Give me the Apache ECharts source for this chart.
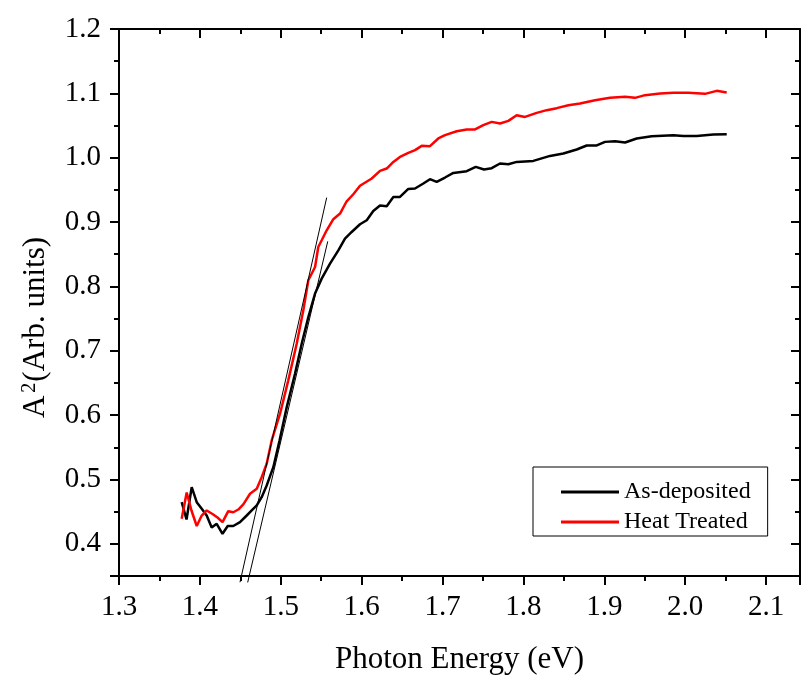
<!DOCTYPE html>
<html>
<head>
<meta charset="utf-8">
<script src="https://cdn.jsdelivr.net/npm/echarts@6/dist/echarts.min.js"></script>
<style>
  html, body { margin: 0; padding: 0; background: #fff; }
  #chart { width: 802px; height: 675px; }
</style>
</head>
<body>
<div id="chart"></div>
<script>
var myChart = echarts.init(document.getElementById('chart'));

// As-deposited
var energyAsDep = [1.3775, 1.3835, 1.3899, 1.3961, 1.4023, 1.4084, 1.4146, 1.4208, 1.4280, 1.4344,
    1.4413, 1.4496, 1.4579, 1.4641, 1.4703, 1.4764, 1.4826, 1.4908, 1.4985, 1.5074,
    1.5176, 1.5259, 1.5341, 1.5424, 1.5506, 1.5609, 1.5712, 1.5794, 1.5877, 1.5980,
    1.6063, 1.6144, 1.6227, 1.6310, 1.6392, 1.6474, 1.6577, 1.6660, 1.6763, 1.6845,
    1.6928, 1.7031, 1.7134, 1.7299, 1.7411, 1.7513, 1.7608, 1.7711, 1.7814, 1.7917,
    1.8123, 1.8329, 1.8494, 1.8659, 1.8783, 1.8907, 1.9009, 1.9133, 1.9257, 1.9401,
    1.9587, 1.9854, 1.9977, 2.0143, 2.0348, 2.0514];
var a2AsDep = [0.4647, 0.4378, 0.4880, 0.4647, 0.4544, 0.4440, 0.4253, 0.4311, 0.4156, 0.4277,
    0.4277, 0.4336, 0.4440, 0.4518, 0.4596, 0.4725, 0.4907, 0.5191, 0.5607, 0.6124,
    0.6644, 0.7110, 0.7524, 0.7888, 0.8121, 0.8355, 0.8561, 0.8743, 0.8846, 0.8966,
    0.9028, 0.9173, 0.9257, 0.9246, 0.9390, 0.9390, 0.9515, 0.9521, 0.9599, 0.9666,
    0.9624, 0.9692, 0.9764, 0.9790, 0.9857, 0.9816, 0.9837, 0.9910, 0.9899, 0.9935,
    0.9950, 1.0028, 1.0065, 1.0128, 1.0190, 1.0190, 1.0246, 1.0257, 1.0236, 1.0299,
    1.0334, 1.0350, 1.0339, 1.0339, 1.0361, 1.0365];

// Heat Treated
var energyHeat = [1.3775, 1.3837, 1.3896, 1.3961, 1.4023, 1.4084, 1.4156, 1.4218, 1.4280, 1.4351,
    1.4413, 1.4475, 1.4537, 1.4620, 1.4703, 1.4764, 1.4826, 1.4888, 1.4991, 1.5093,
    1.5197, 1.5279, 1.5341, 1.5424, 1.5464, 1.5506, 1.5568, 1.5650, 1.5733, 1.5815,
    1.5897, 1.5980, 1.6125, 1.6227, 1.6310, 1.6392, 1.6474, 1.6577, 1.6660, 1.6743,
    1.6845, 1.6948, 1.7031, 1.7176, 1.7299, 1.7402, 1.7504, 1.7608, 1.7711, 1.7814,
    1.7917, 1.8020, 1.8165, 1.8288, 1.8412, 1.8556, 1.8700, 1.8886, 1.9071, 1.9257,
    1.9380, 1.9504, 1.9690, 1.9854, 2.0039, 2.0246, 2.0390, 2.0514];
var a2Heat = [0.4389, 0.4798, 0.4518, 0.4277, 0.4440, 0.4518, 0.4463, 0.4409, 0.4336, 0.4507,
    0.4491, 0.4533, 0.4614, 0.4778, 0.4855, 0.5036, 0.5244, 0.5607, 0.6022, 0.6540,
    0.7110, 0.7628, 0.8095, 0.8302, 0.8613, 0.8717, 0.8872, 0.9044, 0.9132, 0.9323,
    0.9432, 0.9565, 0.9677, 0.9795, 0.9832, 0.9935, 1.0012, 1.0075, 1.0117, 1.0184,
    1.0179, 1.0299, 1.0350, 1.0412, 1.0439, 1.0439, 1.0505, 1.0557, 1.0532, 1.0572,
    1.0661, 1.0634, 1.0697, 1.0739, 1.0770, 1.0816, 1.0843, 1.0894, 1.0930, 1.0946,
    1.0930, 1.0972, 1.0998, 1.1008, 1.1008, 1.0992, 1.1039, 1.1014];

// tangent (linear fit) lines: [x, y] end points
var fitHeat = [[1.4496, 0.3403], [1.5568, 0.9380]];
var fitAsDep = [[1.4591, 0.3400], [1.5581, 0.8700]];

var seriesNames = ['As-deposited', 'Heat Treated'];

function zip(xs, ys) {
    return xs.map(function (x, i) { return [x, ys[i]]; });
}

var font = 'Liberation Serif';

function valueAxis(extra) {
    var base = {
        type: 'value',
        axisLine: { show: true, onZero: false, lineStyle: { color: '#000', width: 2 } },
        axisTick: { show: true, length: 9, lineStyle: { color: '#000', width: 2 } },
        minorTick: { show: true, splitNumber: 2, length: 5, lineStyle: { color: '#000', width: 2 } },
        splitLine: { show: false },
        axisLabel: { show: false }
    };
    return Object.assign(base, extra);
}

var xMin = 1.3, xMax = 2.142;
var yMin = 0.35, yMax = 1.2;

option = {
    backgroundColor: '#fff',
    animation: false,
    grid: {
        left: 119,
        right: 2,
        top: 29,
        bottom: 99,
        outerBoundsMode: 'none'
    },
    xAxis: [
        valueAxis({
            position: 'bottom',
            min: xMin, max: xMax, interval: 0.1,
            name: 'Photon Energy (eV)',
            nameLocation: 'middle',
            nameGap: 68,
            nameTextStyle: { fontFamily: font, fontSize: 31, color: '#000' },
            axisLabel: {
                show: true, margin: 17, showMaxLabel: false,
                fontFamily: font, fontSize: 29, color: '#000',
                formatter: function (v) { return v.toFixed(1); }
            }
        }),
        valueAxis({
            position: 'top',
            min: xMin, max: xMax, interval: 0.1,
            axisTick: { show: true, inside: true, length: 9, lineStyle: { color: '#000', width: 2 } },
            minorTick: { show: true, splitNumber: 2, length: 5, lineStyle: { color: '#000', width: 2 } }
        })
    ],
    yAxis: [
        valueAxis({
            position: 'left',
            min: yMin, max: yMax, splitNumber: 8,
            name: '{b|A}{sup|2}{b|(Arb. units)}',
            nameLocation: 'middle',
            nameGap: 68,
            nameTextStyle: {
                fontFamily: font, fontSize: 31, color: '#000', padding: [0, 50, 0, 0],
                rich: {
                    b: { fontFamily: font, fontSize: 31, color: '#000', height: 31 },
                    sup: { fontFamily: font, fontSize: 20, color: '#000', verticalAlign: 'top', padding: [0, 1, 10, 3] }
                }
            },
            axisLabel: {
                show: true, margin: 18, showMinLabel: false,
                fontFamily: font, fontSize: 29, color: '#000',
                formatter: function (v) { return v.toFixed(1); }
            }
        }),
        valueAxis({
            position: 'right',
            min: yMin, max: yMax, splitNumber: 8,
            axisTick: { show: true, inside: true, length: 9, lineStyle: { color: '#000', width: 2 } },
            minorTick: { show: true, splitNumber: 2, length: 5, lineStyle: { color: '#000', width: 2 } }
        })
    ],
    legend: {
        data: seriesNames,
        orient: 'vertical',
        left: 533,
        top: 467,
        padding: [13, 17, 2, 28],
        itemGap: 6,
        itemWidth: 58,
        itemHeight: 3,
        icon: 'rect',
        borderColor: '#000',
        borderWidth: 1,
        borderRadius: 0,
        textStyle: { fontFamily: font, fontSize: 24, color: '#000' }
    },
    series: [
        {
            name: seriesNames[0],
            type: 'line',
            data: zip(energyAsDep, a2AsDep),
            showSymbol: false,
            color: '#000',
            lineStyle: { color: '#000', width: 2.5 }
        },
        {
            name: seriesNames[1],
            type: 'line',
            data: zip(energyHeat, a2Heat),
            showSymbol: false,
            color: '#ff0000',
            lineStyle: { color: '#ff0000', width: 2.5 }
        },
        {
            name: 'fit1',
            type: 'line',
            data: fitHeat,
            showSymbol: false,
            clip: false,
            lineStyle: { color: '#000', width: 1 }
        },
        {
            name: 'fit2',
            type: 'line',
            data: fitAsDep,
            showSymbol: false,
            clip: false,
            lineStyle: { color: '#000', width: 1 }
        }
    ]
};
myChart.setOption(option);
</script>
</body>
</html>
